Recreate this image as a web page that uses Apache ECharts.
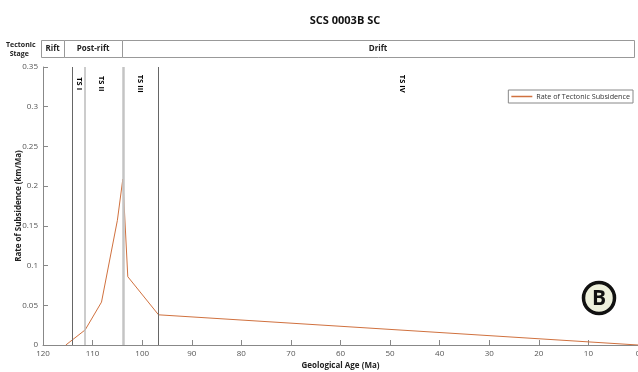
<!DOCTYPE html>
<html lang="en">
<head>
    <meta charset="UTF-8">
    <title>SCS 0003B SC</title>
    <style>
        html, body { margin: 0; padding: 0; background: #fff; }
        #main { width: 638px; height: 372px; }
    </style>
</head>
<body>
    <div id="main"></div>
</body>
<script src="https://cdn.jsdelivr.net/npm/echarts@6/dist/echarts.min.js"></script>
<script>
    // subsidence curve
    var ages = [115.4, 111.5, 108.2, 105.0, 103.9, 102.9, 96.7, 0]
    var rates = [0, 0.019, 0.054, 0.157, 0.209, 0.086, 0.038, 0]

    // tectonic surfaces
    var tsLineAges = [114.1, 111.5, 103.9, 96.7]
    var tsLineColors = ['#666', '#bbb', '#c4c4c4', '#666']
    var tsLineWidths = [1, 1.5, 2.5, 1]
    var tsNames = ['TS I', 'TS II', 'TS III', 'TS IV']
    var tsLabelAges = [112.7, 108.2, 100.4, 47.6]

    // stage bar
    var stages = ['Rift', 'Post-rift', 'Drift']
    var stageStart = [120, 115.3, 103.6]
    var stageEnd = [115.3, 103.6, 0]

    var font = '"Open Sans", "DejaVu Sans", sans-serif'
    var lineColor = '#d0713f'
    var main = echarts.init(document.getElementById('main'))

    option = {
        animation: false,
        textStyle: { fontFamily: font },
        title: {
            text: 'SCS 0003B SC',
            left: 340,
            textAlign: 'center',
            top: 10,
            textStyle: { fontSize: 11, fontWeight: 'bold', color: '#111', fontFamily: font }
        },
        legend: {
            data: [{ name: 'Rate of Tectonic Subsidence', icon: 'rect', itemStyle: { color: lineColor } }],
            right: 5,
            top: 90,
            padding: [3, 3],
            borderColor: '#888',
            borderWidth: 1,
            borderRadius: 0,
            itemWidth: 21,
            itemHeight: 1.5,
            itemGap: 4,
            textStyle: { fontSize: 7.2, color: '#333', fontFamily: font, padding: [0, 0, 0, -1] }
        },
        grid: [
            { left: 43, right: 0, top: 67, bottom: 27, outerBoundsMode: 'none' },
            { left: 41, right: 4, top: 40, height: 17, outerBoundsMode: 'none' }
        ],
        xAxis: [
            {
                type: 'value', gridIndex: 0,
                min: 0, max: 120, interval: 10, inverse: true,
                name: 'Geological Age (Ma)',
                nameLocation: 'middle',
                nameMoveOverlap: false,
                nameGap: 17,
                nameTextStyle: { fontSize: 8, fontWeight: 'bold', color: '#222' },
                axisLine: { onZero: false, lineStyle: { color: '#888' } },
                axisTick: { inside: true, length: 5, lineStyle: { color: '#888' } },
                axisLabel: { fontSize: 8, color: '#555', margin: 5 },
                splitLine: { show: false }
            },
            {
                type: 'value', gridIndex: 1,
                min: 0, max: 120, inverse: true, show: false
            }
        ],
        yAxis: [
            {
                type: 'value', gridIndex: 0,
                min: 0, max: 0.35, interval: 0.05,
                name: 'Rate of Subsidence (km/Ma)',
                nameLocation: 'middle',
                nameMoveOverlap: false,
                nameRotate: 90,
                nameGap: 20,
                nameTextStyle: { fontSize: 8, fontWeight: 'bold', color: '#222' },
                axisLine: { show: true, onZero: false, lineStyle: { color: '#888' } },
                axisTick: { show: true, inside: true, length: 5, lineStyle: { color: '#888' } },
                axisLabel: { fontSize: 8, color: '#555', margin: 5 },
                splitLine: { show: false }
            },
            {
                type: 'value', gridIndex: 1,
                min: 0, max: 1, show: false
            }
        ],
        graphic: [
            {
                type: 'text', left: 6, top: 40,
                style: {
                    text: 'Tectonic\n  Stage', font: 'bold 7px ' + font, fill: '#222', lineHeight: 9
                }
            },
            {
                type: 'circle', shape: { cx: 599, cy: 298, r: 15.5 },
                style: { fill: '#eef0dc', stroke: '#111', lineWidth: 3.5 }
            },
            {
                type: 'text', x: 599, y: 299,
                style: {
                    text: 'B', font: 'bold 21px ' + font, fill: '#111',
                    align: 'center', verticalAlign: 'middle'
                }
            }
        ],
        series: [
            {
                name: 'Rate of Tectonic Subsidence',
                type: 'line',
                xAxisIndex: 0, yAxisIndex: 0,
                symbol: 'none',
                lineStyle: { color: lineColor, width: 1 },
                itemStyle: { color: lineColor },
                data: ages.map(function (a, i) { return [a, rates[i]] }),
                z: 3,
                markLine: {
                    silent: true,
                    symbol: 'none',
                    label: { show: false },
                    data: tsLineAges.map(function (a, i) {
                        return { xAxis: a, lineStyle: { color: tsLineColors[i], width: tsLineWidths[i], type: 'solid' } }
                    })
                }
            },
            {
                name: 'TS labels',
                type: 'custom',
                xAxisIndex: 0, yAxisIndex: 0,
                silent: true,
                renderItem: function (params, api) {
                    var p = api.coord([api.value(0), api.value(1)])
                    return {
                        type: 'text',
                        x: p[0], y: p[1],
                        rotation: -Math.PI / 2,
                        style: {
                            text: tsNames[params.dataIndex],
                            align: 'center', verticalAlign: 'middle',
                            font: 'bold 7.5px ' + font, fill: '#000'
                        }
                    }
                },
                data: tsLabelAges.map(function (a) { return [a, 0.329] })
            },
            {
                name: 'Stages',
                type: 'custom',
                xAxisIndex: 1, yAxisIndex: 1,
                silent: true,
                clip: false,
                renderItem: function (params, api) {
                    var p0 = api.coord([api.value(0), 1])
                    var p1 = api.coord([api.value(1), 0])
                    return {
                        type: 'group',
                        children: [
                            {
                                type: 'rect',
                                shape: { x: Math.round(p0[0]) + 0.5, y: Math.round(p0[1]) + 0.5, width: Math.round(p1[0] - p0[0]), height: Math.round(p1[1] - p0[1]) },
                                style: { fill: '#fff', stroke: '#999', lineWidth: 1 }
                            },
                            {
                                type: 'text',
                                style: {
                                    text: stages[params.dataIndex],
                                    x: (p0[0] + p1[0]) / 2, y: (p0[1] + p1[1]) / 2,
                                    align: 'center', verticalAlign: 'middle',
                                    font: 'bold 8px ' + font, fill: '#222'
                                }
                            }
                        ]
                    }
                },
                data: stageStart.map(function (s, i) { return [s, stageEnd[i]] })
            }
        ]
    };
    main.setOption(option)
</script>
</html>
